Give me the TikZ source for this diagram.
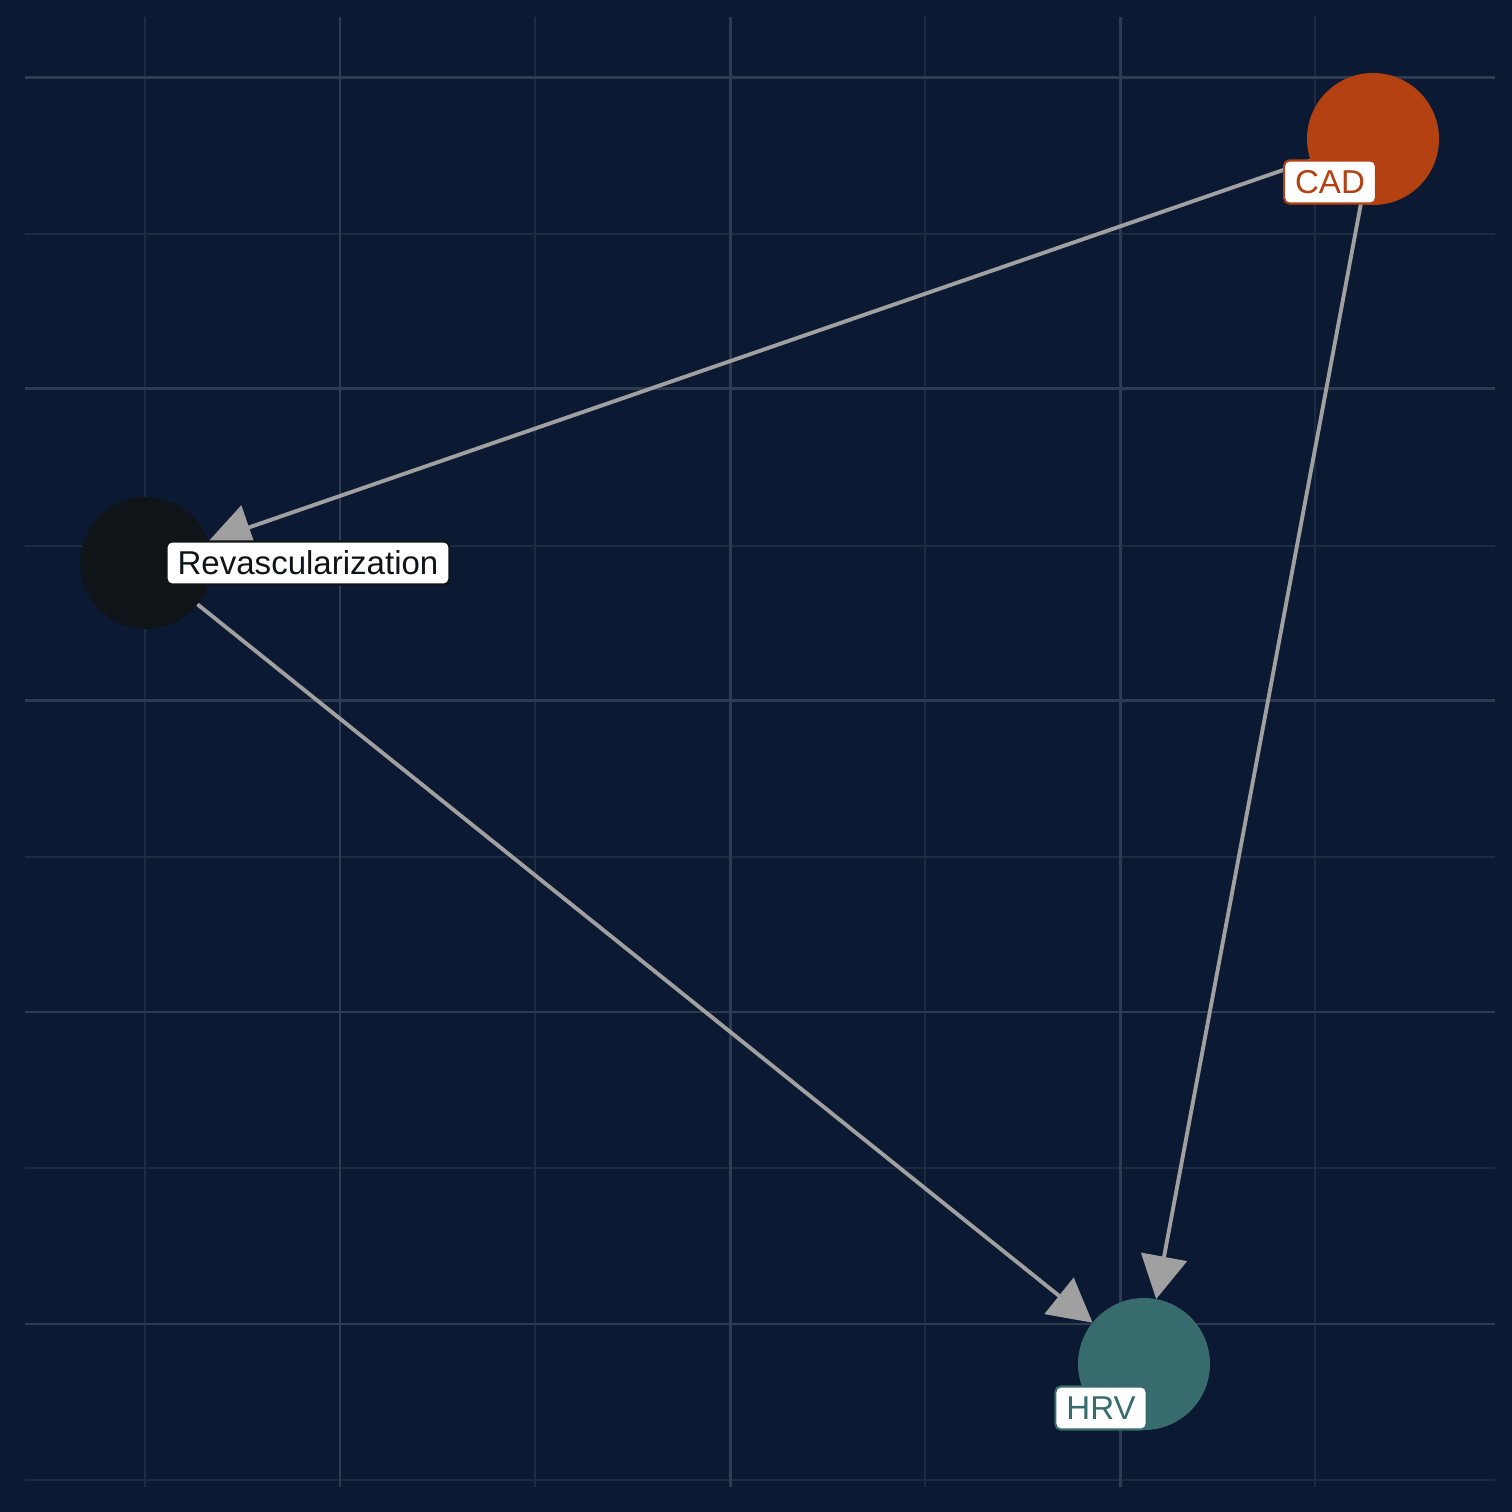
\documentclass[tikz,border=0pt]{standalone}
\usepackage{fontspec}
\setmainfont{Liberation Sans}
\usetikzlibrary{arrows.meta, positioning}

\definecolor{bgnavy}{HTML}{0B1A32}
\definecolor{gridmajor}{HTML}{2E3B51}
\definecolor{gridminor}{HTML}{1C2A42}
\definecolor{edgegray}{HTML}{A0A0A0}
\definecolor{cadorange}{HTML}{B34112}
\definecolor{hrvteal}{HTML}{376B6D}
\definecolor{revdark}{HTML}{0F1418}

\tikzset{
  dagnode/.style={circle, minimum size=1.32cm, inner sep=0pt, outer sep=0pt},
  daglabel/.style={fill=white, draw=#1, text=#1, line width=0.6pt, rounded corners=1.5pt,
    inner xsep=0.11cm, inner ysep=0pt, minimum height=0.43cm,
    font=\fontsize{9.4}{11}\selectfont},
  dagedge/.style={draw=edgegray, line width=1.1pt, -{Triangle[length=4.3mm, width=4.6mm]}}
}

\begin{document}
\begin{tikzpicture}
\useasboundingbox[fill=bgnavy] (0,0) rectangle (15.12,15.12);

% panel grid
\foreach \x in {1.45, 5.35, 9.25, 13.15} {
    \draw[gridminor, line width=0.55pt] (\x, 0.25) -- (\x, 14.95);
};
\foreach \y in {12.78, 9.66, 6.55, 3.44, 0.32} {
    \draw[gridminor, line width=0.55pt] (0.25, \y) -- (14.95, \y);
};
\foreach \x in {3.40, 7.30, 11.20} {
    \draw[gridmajor, line width=0.85pt] (\x, 0.25) -- (\x, 14.95);
};
\foreach \y in {14.34, 11.23, 8.11, 5.00, 1.88} {
    \draw[gridmajor, line width=0.85pt] (0.25, \y) -- (14.95, \y);
};

% the nodes
\node[dagnode, fill=cadorange] (cad) at (13.73, 13.73) {};
\node[dagnode, fill=revdark] (revasc) at (1.46, 9.49) {};
\node[dagnode, fill=hrvteal] (hrv) at (11.44, 1.48) {};

% the edges
\draw[dagedge] (cad) -- (revasc);
\draw[dagedge] (cad) -- (hrv);
\draw[dagedge] (revasc) -- (hrv);

% labels
\node[daglabel=cadorange] (cadlabel) at ([shift={(-0.43,-0.43)}]cad.center) {CAD};
\node[daglabel=revdark] (revasclabel) at ([shift={(1.62,0)}]revasc.center) {Revascularization};
\node[daglabel=hrvteal] (hrvlabel) at ([shift={(-0.43,-0.44)}]hrv.center) {HRV};
\end{tikzpicture}
\end{document}
